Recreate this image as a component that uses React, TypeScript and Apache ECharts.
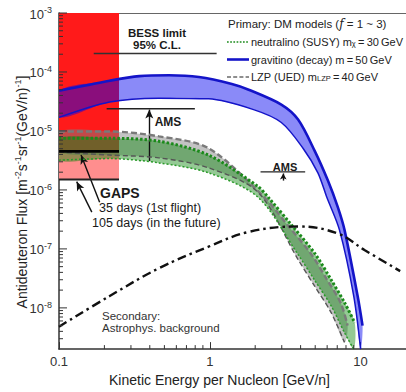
import React, { useEffect, useRef } from 'react';
import * as echarts from 'echarts';

const FONT = '"Liberation Sans", Arial, Helvetica, sans-serif';

// ---- axis ranges / tick labels ----
const X_MIN = 0.1;
const X_MAX = 20;
const Y_MIN = 2e-9;
const Y_MAX = 1e-3;
const xMajorLabels = [0.1, 1, 10];
const xMinorTicks = [0.2, 0.3, 0.4, 0.5, 0.6, 0.7, 0.8, 0.9, 2, 3, 4, 5, 6, 7, 8, 9];
const yMajorExponents = [-8, -7, -6, -5, -4, -3];
const yDecades = [-9, -8, -7, -6, -5, -4];
const yMinorFactors = [2, 3, 4, 5, 6, 7, 8, 9];

// ---- gravitino (decay) m = 50 GeV band ----
const gravUpperE = [0.1, 0.217, 0.341, 0.537, 0.847, 1.4, 1.81, 2.98, 3.85, 4.96, 6.07, 7.06, 7.82, 9.55, 10.3];
const gravUpperF = [4.8e-5, 7.1e-5, 8.5e-5, 8.8e-5, 8.2e-5, 6.25e-5, 5.0e-5, 2.8e-5, 1.56e-5, 4.6e-6, 1.44e-6, 5.1e-7, 2.1e-7, 1.6e-8, 5e-9];
const gravLowerE = [0.1, 0.217, 0.46, 0.98, 1.95, 2.98, 4.15, 5.21, 5.97, 7.24, 9.0, 10.0];
const gravLowerF = [1.7e-5, 3.1e-5, 3.6e-5, 3.5e-5, 2.3e-5, 1.39e-5, 5.1e-6, 1.95e-6, 7.5e-7, 2.1e-7, 1.6e-8, 2e-9];

// ---- neutralino (SUSY) m = 30 GeV band ----
const neuUpperE = [0.1, 0.217, 0.46, 0.98, 2.09, 2.44, 3.46, 4.98, 6.35, 7.85, 9.14];
const neuUpperF = [7.5e-6, 7.5e-6, 6.7e-6, 3.9e-6, 1.14e-6, 7.5e-7, 2.6e-7, 8.3e-8, 3.05e-8, 1.21e-8, 5.6e-9];
const neuLowerE = [0.1, 0.217, 0.46, 0.98, 2.09, 3.85, 4.96, 6.38, 7.82, 9.0];
const neuLowerF = [3.2e-6, 3.4e-6, 2.87e-6, 1.95e-6, 7.5e-7, 8.0e-8, 2.94e-8, 1.08e-8, 3.8e-9, 2e-9];

// ---- LZP (UED) m = 40 GeV band ----
const lzpUpperE = [0.1, 0.217, 0.46, 0.98, 2.3, 3.25, 4.68, 5.97, 7.38, 8.2];
const lzpUpperF = [9.8e-6, 9.8e-6, 8.1e-6, 5.1e-6, 7.5e-7, 2.6e-7, 8.3e-8, 3.05e-8, 1.21e-8, 5e-9];
const lzpLowerE = [0.1, 0.217, 0.46, 0.98, 2.09, 3.85, 4.96, 6.38, 7.82];
const lzpLowerF = [4.4e-6, 3.9e-6, 3.5e-6, 2.37e-6, 9.1e-7, 6.6e-8, 2.33e-8, 8.3e-9, 2.6e-9];

// ---- secondary astrophysical background ----
const secE = [0.1, 0.217, 0.46, 0.98, 1.81, 3.85, 7.06, 10.6, 18.3];
const secF = [4.8e-9, 1.59e-8, 4.7e-8, 1.09e-7, 1.94e-7, 2.4e-7, 1.82e-7, 9.6e-8, 4.2e-8];

// ---- experiments ----
const gapsE = [0.1, 0.25];
const gaps35F = 4.5e-6;
const gaps105F = 1.5e-6;
const gapsTopF = 1e-3;
const bessE = [0.17, 1.11];
const bessF = 2.06e-4;
const amsE = [0.207, 0.796];
const amsF = 2.39e-5;
const amsArrowE = 0.397;
const amsArrowF = [3.1e-6, 2.3e-5];
const ams2E = [2.17, 4.29];
const ams2F = 2.03e-6;
const ams2ArrowE = 3.07;
const ams2ArrowF = [1.44e-6, 1.9e-6];
const gaps35Arrow = [[0.186, 6.2e-7], [0.14, 3.9e-6]];
const gaps105Arrow = [[0.165, 4.2e-7], [0.131, 1.38e-6]];

// ---- legend ----
const legendTitle = 'Primary: DM models ({i|f} = 1 ~ 3)';
const legendLabels = [
  'neutralino (SUSY) m{sub|χ}\u2009=\u200930\u2009GeV',
  'gravitino (decay) m\u2009=\u200950\u2009GeV',
  'LZP (UED) m{sub|LZP}\u2009=\u200940\u2009GeV',
];

const pairs = (xs: number[], ys: number[]) => xs.map((x, i) => [x, ys[i]]);
const yMinorTicks: number[] = [];
yDecades.forEach((e) => yMinorFactors.forEach((k) => {
  const v = k * Math.pow(10, e);
  if (v > Y_MIN && v < Y_MAX) yMinorTicks.push(v);
}));

function band(upper: number[][], lower: number[][], fill: string, z: number) {
  const pts = upper.concat(lower.slice().reverse());
  return {
    type: 'custom',
    z,
    silent: true,
    clip: true,
    data: [upper[0]],
    renderItem: (_p: any, api: any) => ({
      type: 'polygon',
      shape: { points: pts.map((p) => api.coord(p)), smooth: 0.3 },
      style: { fill },
    }),
  };
}

function line(name: string, data: number[][], color: string, width: number, dash: any, z = 5, smooth: any = 0.3) {
  return {
    type: 'line',
    name,
    data,
    z,
    smooth,
    symbol: 'none',
    showSymbol: false,
    silent: true,
    clip: true,
    lineStyle: { color, width, type: dash, cap: 'butt' },
    itemStyle: { color },
  };
}

const arrowMark = (segs: number[][][], size: number[]) => ({
  silent: true,
  symbol: ['none', 'arrow'],
  symbolSize: size,
  label: { show: false },
  lineStyle: { color: '#111', width: 1.4, type: 'solid' },
  data: segs.map((s) => [{ coord: s[0] }, { coord: s[1] }]),
});

const supRich = { s: { fontSize: 9, verticalAlign: 'top', lineHeight: 10, fontFamily: FONT, color: '#333' } };

function buildOption(): any {
  const rectData = [
    [gapsE[0], gaps35F, gapsE[1], gapsTopF],
    [gapsE[0], gaps105F, gapsE[1], gaps35F],
  ];
  const rectColors = ['#ff1a1a', '#ff8e8e'];
  const txt = (text: string, x: number, y: number, size: number, weight = 'normal', align = 'left', extra: any = {}) => ({
    type: 'text', x, y, z: 100, silent: true,
    style: {
      text,
      font: `${weight} ${size}px ${FONT}`,
      fill: '#1a1a1a',
      textAlign: align, align, textVerticalAlign: 'middle', verticalAlign: 'middle', ...extra,
    },
  });
  const legendY = [42, 59.5, 77];
  const legendSamples = [
    { stroke: '#1b8a1b', lineWidth: 1.7, lineDash: [1.7, 1.5] },
    { stroke: '#1414c8', lineWidth: 2.6, lineDash: null },
    { stroke: '#6a6a6a', lineWidth: 1.5, lineDash: [4, 2.2] },
  ];
  const legendGraphics: any[] = [];
  legendLabels.forEach((lab, i) => {
    legendGraphics.push({
      type: 'line', z: 100, silent: true,
      shape: { x1: 227, y1: legendY[i], x2: 249, y2: legendY[i] },
      style: { ...legendSamples[i], lineCap: 'butt' },
    });
    legendGraphics.push(txt(lab, 251, legendY[i], 11, 'normal', 'left', {
      fill: '#222',
      rich: { sub: { fontSize: 7.5, verticalAlign: 'bottom', lineHeight: 9, fontFamily: FONT, fill: '#222' } },
    }));
  });

  return {
    animation: false,
    backgroundColor: '#fff',
    grid: { left: 59, top: 13, width: 350, height: 342, containLabel: false },
    xAxis: [
      {
        type: 'log', logBase: 10, min: X_MIN, max: X_MAX,
        axisLine: { lineStyle: { color: '#333', width: 1.5 } },
        axisTick: { inside: true, length: 7, lineStyle: { color: '#333', width: 1 } },
        axisLabel: {
          showMaxLabel: false, margin: 6, fontSize: 13, color: '#333', fontFamily: FONT,
          formatter: (v: number) => (xMajorLabels.some((m) => Math.abs(m - v) / m < 1e-6) ? String(v) : ''),
        },
        splitLine: { show: false },
        name: 'Kinetic Energy per Nucleon [GeV/n]',
        nameLocation: 'middle', nameGap: 16,
        nameTextStyle: { fontSize: 14, color: '#222', fontFamily: FONT, padding: [0, 26, 0, 0] },
      },
      {
        type: 'log', logBase: 10, min: X_MIN, max: X_MAX, position: 'top',
        axisLine: { lineStyle: { color: '#666', width: 1.2 } },
        axisTick: { show: false }, axisLabel: { show: false }, splitLine: { show: false },
      },
    ],
    yAxis: [
      {
        type: 'log', logBase: 10, min: Y_MIN, max: Y_MAX,
        axisLine: { lineStyle: { color: '#333', width: 1.5 } },
        axisTick: { show: false },
        axisLabel: { show: false },
        splitLine: { show: false },
        name: 'Antideuteron Flux [m{s|-2}s{s|-1}sr{s|-1}(GeV/n){s|-1}]',
        nameLocation: 'middle', nameGap: 29,
        nameTextStyle: { fontSize: 14, color: '#222', fontFamily: FONT, lineHeight: 17, padding: [0, 22, 0, 0], rich: supRich },
      },
    ],
    graphic: [
      txt('BESS limit', 157, 33, 11.5, 'bold', 'center'),
      txt('95% C.L.', 157, 45, 11.5, 'bold', 'center'),
      txt('AMS', 168, 122, 12, 'bold', 'center'),
      txt('AMS', 285, 167, 11, 'bold', 'center'),
      txt('GAPS', 100, 193, 14, 'bold'),
      txt('35 days (1st flight)', 99, 208, 12.5),
      txt('105 days (in the future)', 92, 223, 12.5),
      txt('Secondary:', 102, 316, 11.5, 'normal', 'left', { fill: '#333' }),
      txt('Astrophys. background', 102, 328, 11.5, 'normal', 'left', { fill: '#333' }),
      txt(legendTitle, 228, 24, 11.5, 'normal', 'left', {
        fill: '#222',
        rich: { i: { fontFamily: '"DejaVu Serif", serif', fontStyle: 'italic', fontSize: 12, fill: '#222' } },
      }),
      ...legendGraphics,
    ],
    series: [
      {
        type: 'custom', z: 1, silent: true, clip: true,
        data: rectData, encode: { x: [0, 2], y: [1, 3] },
        renderItem: (params: any, api: any) => {
          const p0 = api.coord([api.value(0), api.value(1)]);
          const p1 = api.coord([api.value(2), api.value(3)]);
          return {
            type: 'rect',
            shape: { x: p0[0], y: p1[1], width: p1[0] - p0[0], height: p0[1] - p1[1] },
            style: { fill: rectColors[params.dataIndex] },
          };
        },
      },
      band(pairs(gravUpperE, gravUpperF), pairs(gravLowerE, gravLowerF), 'rgba(0,0,240,0.46)', 2),
      band(pairs(lzpUpperE, lzpUpperF), pairs(lzpLowerE, lzpLowerF), 'rgba(128,128,128,0.47)', 2),
      band(pairs(neuUpperE, neuUpperF), pairs(neuLowerE, neuLowerF), 'rgba(0,128,0,0.42)', 3),
      line('gravitino', pairs(gravUpperE, gravUpperF), '#1414c8', 2.6, 'solid'),
      line('gravitinoLow', pairs(gravLowerE, gravLowerF), '#1414c8', 1.5, 'solid'),
      line('LZP', pairs(lzpUpperE, lzpUpperF), '#7a7a7a', 2.4, [6, 3]),
      line('LZPLow', pairs(lzpLowerE, lzpLowerF), '#555', 1.4, [5, 3]),
      line('neutralino', pairs(neuUpperE, neuUpperF), '#1b8a1b', 3, [2.5, 2]),
      line('neutralinoLow', pairs(neuLowerE, neuLowerF), '#2a9a2a', 1.5, [2, 2]),
      line('secondary', pairs(secE, secF), '#111', 2.4, [9, 4, 2.5, 4], 5, 0.4),
      line('gaps35', pairs(gapsE, [gaps35F, gaps35F]), '#000', 2.6, 'solid', 6, false),
      {
        ...line('gaps105', pairs(gapsE, [gaps105F, gaps105F]), '#222', 2, 'solid', 6, false),
        markLine: arrowMark([gaps35Arrow, gaps105Arrow], [6, 9]),
      },
      line('bess', pairs(bessE, [bessF, bessF]), '#333', 1.5, 'solid', 6, false),
      {
        ...line('ams', pairs(amsE, [amsF, amsF]), '#222', 1.5, 'solid', 6, false),
        markLine: arrowMark([[[amsArrowE, amsArrowF[0]], [amsArrowE, amsArrowF[1]]]], [6, 9]),
      },
      {
        ...line('ams2', pairs(ams2E, [ams2F, ams2F]), '#222', 1.3, 'solid', 6, false),
        markLine: arrowMark([[[ams2ArrowE, ams2ArrowF[0]], [ams2ArrowE, ams2ArrowF[1]]]], [5, 6]),
      },
      {
        type: 'custom', z: 7, silent: true, clip: false,
        data: xMinorTicks.map((v) => [v, Y_MIN]),
        renderItem: (_p: any, api: any) => {
          const p = api.coord([api.value(0), Y_MIN]);
          return { type: 'line', shape: { x1: p[0], y1: p[1], x2: p[0], y2: p[1] - 4 }, style: { stroke: '#333', lineWidth: 1 } };
        },
      },
      {
        type: 'custom', z: 7, silent: true, clip: false,
        data: yMinorTicks.map((v) => [X_MIN, v]),
        renderItem: (_p: any, api: any) => {
          const p = api.coord([X_MIN, api.value(1)]);
          return { type: 'line', shape: { x1: p[0], y1: p[1], x2: p[0] + 4, y2: p[1] }, style: { stroke: '#333', lineWidth: 1 } };
        },
      },
      {
        type: 'custom', z: 7, silent: true, clip: false,
        data: yMajorExponents.map((e) => [X_MIN, Math.pow(10, e), e]),
        renderItem: (_p: any, api: any) => {
          const p = api.coord([X_MIN, api.value(1)]);
          const e = api.value(2);
          return {
            type: 'group',
            children: [
              { type: 'line', shape: { x1: p[0], y1: p[1], x2: p[0] + 8, y2: p[1] }, style: { stroke: '#333', lineWidth: 1 } },
              {
                type: 'text', x: p[0] - 7, y: p[1] + 1,
                style: {
                  text: `{b|10}{s|${e}}`,
                  textAlign: 'right', align: 'right', textVerticalAlign: 'middle', verticalAlign: 'middle',
                  rich: {
                    b: { fontSize: 13, lineHeight: 17, fontFamily: FONT, fill: '#333' },
                    s: { fontSize: 9, verticalAlign: 'top', lineHeight: 10, fontFamily: FONT, fill: '#333' },
                  },
                },
              },
            ],
          };
        },
      },
    ],
  };
}

export default function App() {
  const ref = useRef<HTMLDivElement>(null);
  useEffect(() => {
    if (!ref.current) return;
    const chart = echarts.init(ref.current, null, { renderer: 'svg' });
    chart.setOption(buildOption());
    return () => chart.dispose();
  }, []);
  return (
    <div
      ref={ref}
      style={{ position: 'fixed', left: 0, top: 0, width: 406, height: 392, background: '#fff' }}
    />
  );
}
